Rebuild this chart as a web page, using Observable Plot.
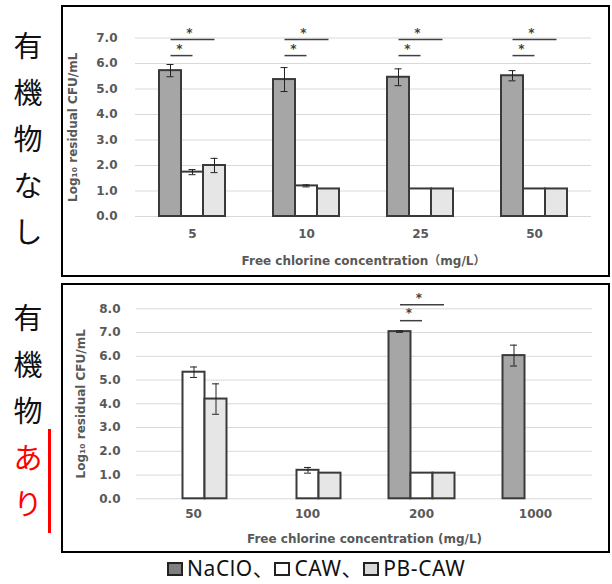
<!DOCTYPE html>
<html lang="ja">
<head>
<meta charset="utf-8">
<script src="https://cdn.jsdelivr.net/npm/d3@7"></script>
<script src="https://cdn.jsdelivr.net/npm/@observablehq/plot@0.6"></script>
<style>
html, body { margin: 0; padding: 0; background: #fff; }
#root { position: relative; width: 612px; height: 584px; overflow: hidden; font-family: "Noto Sans CJK JP", "Noto Sans", sans-serif; }
.panel { position: absolute; left: 61px; width: 545px; border: 2px solid #000; background: #fff; }
.panel svg { display: block; overflow: visible; }
.side { position: absolute; left: 10px; width: 36px; font-size: 29px; line-height: 46.5px; text-align: center; color: #111; }
.side span { display: block; height: 46.5px; }
.redbar { position: absolute; left: 48px; top: 429px; width: 3px; height: 104px; background: #ff0000; }
.legend { position: absolute; left: 167px; top: 556px; height: 24px; white-space: nowrap; font-family: "Noto Sans", "Noto Sans CJK JP", sans-serif; font-size: 21px; line-height: 24px; letter-spacing: 0.6px; color: #111; }
.legend .sw { display: inline-block; width: 16px; height: 14px; border: 2px solid #222; vertical-align: 0px; margin-right: 4px; box-sizing: border-box; }
</style>
</head>
<body>
<div id="root"></div>
<script>
// ---- data ----
const seriesNames = ["NaClO", "CAW", "PB-CAW"];
const seriesFill = ["#a6a6a6", "#ffffff", "#e6e6e6"];
const legendFill = ["#7f7f7f", "#ffffff", "#d9d9d9"];
const legendSep = ["、", "、", ""];

const sideTop = ["有", "機", "物", "な", "し"];
const sideBottom = ["有", "機", "物", "あ", "り"];
const sideBottomRed = [false, false, false, true, true];

const yLabel = "Log₁₀ residual CFU/mL";

// top panel (no organic matter)
const topConc = ["5", "10", "25", "50"];
const topTicks = [0, 1, 2, 3, 4, 5, 6, 7];
const topNaClO = [5.72, 5.37, 5.46, 5.52];
const topNaClOErr = [0.24, 0.47, 0.33, 0.2];
const topCAW = [1.74, 1.2, 1.08, 1.08];
const topCAWErr = [0.1, 0.04, 0, 0];
const topPB = [2.0, 1.08, 1.08, 1.08];
const topPBErr = [0.28, 0, 0, 0];
const topSigNear = [6.31, 6.31, 6.31, 6.31];
const topSigFar = [6.94, 6.94, 6.94, 6.94];
const topStarNear = [6.55, 6.55, 6.55, 6.55];
const topStarFar = [7.18, 7.18, 7.18, 7.18];
const topXLabel = "Free chlorine concentration（mg/L）";

// bottom panel (with organic matter)
const botConc = ["50", "100", "200", "1000"];
const botTicks = [0, 1, 2, 3, 4, 5, 6, 7, 8];
const botNaClO = [null, null, 7.04, 6.03];
const botNaClOErr = [0, 0, 0.03, 0.44];
const botCAW = [5.33, 1.2, 1.08, null];
const botCAWErr = [0.22, 0.12, 0, 0];
const botPB = [4.2, 1.08, 1.08, null];
const botPBErr = [0.64, 0, 0, 0];
const botSigNear = [null, null, 7.5, null];
const botSigFar = [null, null, 8.17, null];
const botStarNear = [null, null, 7.8, null];
const botStarFar = [null, null, 8.43, null];
const botXLabel = "Free chlorine concentration (mg/L)";

// ---- layout ----
const root = document.getElementById("root");

function sideLabel(chars, reds, top) {
  const d = document.createElement("div");
  d.className = "side";
  d.style.top = top + "px";
  chars.forEach((c, i) => {
    const s = document.createElement("span");
    s.textContent = c;
    if (reds && reds[i]) s.style.color = "#ff0000";
    d.appendChild(s);
  });
  root.appendChild(d);
}
sideLabel(sideTop, null, 21);
sideLabel(sideBottom, sideBottomRed, 293);
const rb = document.createElement("div");
rb.className = "redbar";
root.appendChild(rb);

const chartFont = "'DejaVu Sans', 'Noto Sans CJK JP', sans-serif";

function drawPanel(cfg) {
  const rows = [];
  const vals = cfg.values, errs = cfg.errs;
  cfg.conc.forEach((c, i) => {
    vals.forEach((arr, k) => {
      if (arr[i] != null) rows.push({conc: c, series: seriesNames[k], value: arr[i], err: errs[k][i]});
    });
  });
  const errRows = rows.filter(d => d.err > 0);
  const sig = [], starsNear = [], starsFar = [];
  cfg.conc.forEach((c, i) => {
    if (cfg.near[i] != null) {
      sig.push({conc: c, a: "NaClO", b: "CAW", y: cfg.near[i]});
      starsNear.push({conc: c, s: "NaClO", y: cfg.starNear[i]});
    }
    if (cfg.far[i] != null) {
      sig.push({conc: c, a: "NaClO", b: "PB-CAW", y: cfg.far[i]});
      starsFar.push({conc: c, s: "CAW", y: cfg.starFar[i]});
    }
  });

  const chart = Plot.plot({
    width: 545,
    height: cfg.height,
    marginLeft: cfg.ml,
    marginRight: cfg.mr,
    marginTop: cfg.mt,
    marginBottom: cfg.mb,
    style: {fontFamily: chartFont, fontSize: "12px", fontWeight: "bold", color: "#595959", background: "#fff", overflow: "visible"},
    fx: {domain: cfg.conc, padding: 0, axis: "bottom", label: cfg.xLabel, tickSize: 0, tickPadding: cfg.fxPad, labelAnchor: "center", labelOffset: cfg.fxLabelOffset},
    x: {domain: seriesNames, axis: null, paddingInner: 0, paddingOuter: 1.02},
    y: {domain: [0, cfg.ticks[cfg.ticks.length - 1]], ticks: cfg.ticks, tickFormat: d => d.toFixed(1), tickSize: 0, tickPadding: cfg.yPad, label: yLabel, labelAnchor: "center", labelOffset: cfg.yLabelOffset, labelArrow: "none"},
    color: {domain: seriesNames, range: seriesFill},
    marks: [
      Plot.ruleY(cfg.ticks, {stroke: "#d9d9d9", strokeWidth: 1}),
      Plot.barY(rows, {fx: "conc", x: "series", y: "value", fill: "series", stroke: "#3a3a3a", strokeWidth: 2}),
      Plot.ruleX(errRows, {fx: "conc", x: "series", y1: d => d.value - d.err, y2: d => d.value + d.err, stroke: "#222", strokeWidth: 1}),
      Plot.tickY(errRows, {fx: "conc", x: "series", y: d => d.value - d.err, stroke: "#222", strokeWidth: 1, insetLeft: 7.5, insetRight: 7.5}),
      Plot.tickY(errRows, {fx: "conc", x: "series", y: d => d.value + d.err, stroke: "#222", strokeWidth: 1, insetLeft: 7.5, insetRight: 7.5}),
      Plot.link(sig, {fx: "conc", x1: "a", x2: "b", y1: "y", y2: "y", stroke: "#404040", strokeWidth: 1.5}),
      Plot.text(starsNear, {fx: "conc", x: "s", y: "y", text: () => "*", dx: 9, fontSize: 12, fill: "#404040"}),
      Plot.text(starsFar, {fx: "conc", x: "s", y: "y", text: () => "*", dx: -3, fontSize: 12, fill: "#404040"})
    ]
  });
  const box = document.createElement("div");
  box.className = "panel";
  box.style.top = cfg.top + "px";
  box.style.height = cfg.height + "px";
  box.appendChild(chart);
  root.appendChild(box);
}

drawPanel({
  top: 5, height: 268, conc: topConc, ticks: topTicks,
  values: [topNaClO, topCAW, topPB], errs: [topNaClOErr, topCAWErr, topPBErr],
  near: topSigNear, far: topSigFar, starNear: topStarNear, starFar: topStarFar,
  xLabel: topXLabel,
  ml: 71, mr: 16, mt: 30.5, mb: 59,
  yPad: 18, yLabelOffset: 67, fxPad: 13, fxLabelOffset: 48
});

drawPanel({
  top: 283, height: 266, conc: botConc, ticks: botTicks,
  values: [botNaClO, botCAW, botPB], errs: [botNaClOErr, botCAWErr, botPBErr],
  near: botSigNear, far: botSigFar, starNear: botStarNear, starFar: botStarFar,
  xLabel: botXLabel,
  ml: 72.5, mr: 16, mt: 23.3, mb: 52.7,
  yPad: 16, yLabelOffset: 60, fxPad: 11, fxLabelOffset: 44
});

// legend
const lg = document.createElement("div");
lg.className = "legend";
seriesNames.forEach((name, i) => {
  const sw = document.createElement("span");
  sw.className = "sw";
  sw.style.background = legendFill[i];
  lg.appendChild(sw);
  lg.appendChild(document.createTextNode(name + legendSep[i]));
});
root.appendChild(lg);
</script>
</body>
</html>
